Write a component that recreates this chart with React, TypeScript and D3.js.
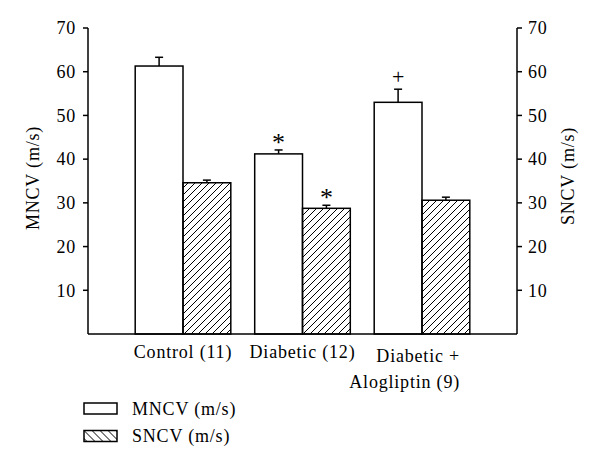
import React from "react";
import * as d3 from "d3";

const categories = ["Control (11)", "Diabetic (12)", "Diabetic +\nAlogliptin (9)"];
const mncv = [61.3, 41.2, 53.0];
const mncvErr = [2.0, 0.9, 3.0];
const sncv = [34.6, 28.75, 30.6];
const sncvErr = [0.6, 0.7, 0.7];
const mncvMarks = ["", "*", "+"];
const sncvMarks = ["", "*", ""];
const tickValues = [10, 20, 30, 40, 50, 60, 70];
const leftTitle = "MNCV (m/s)";
const rightTitle = "SNCV (m/s)";
const legendLabels = ["MNCV (m/s)", "SNCV (m/s)"];

const W = 600;
const H = 467;
const FONT = "'Liberation Serif', 'Times New Roman', serif";

export default function App() {
  const left = 88;
  const right = 517;
  const top = 28;
  const bottom = 334;
  const y = d3.scaleLinear().domain([0, 70]).range([bottom, top]);
  const x = d3.scalePoint<string>().domain(categories).range([left, right]).padding(0.795);
  const bw = x.step() * 0.4;
  const textStyle: React.CSSProperties = { fontFamily: FONT, fontSize: 18, letterSpacing: 0.8 };

  const markY = (v: number, e: number) => y(v + e);

  return (
    <svg
      width={W}
      height={H}
      viewBox={`0 0 ${W} ${H}`}
      style={{ position: "absolute", left: 0, top: 0, background: "#fff" }}
    >
      <defs>
        <pattern id="hatch" patternUnits="userSpaceOnUse" width={7} height={7}>
          <path d="M0,7 L7,0 M-2,2 L2,-2 M5,9 L9,5" stroke="#000" strokeWidth={1} />
        </pattern>
        <pattern id="hatchLegend" patternUnits="userSpaceOnUse" width={8} height={8}>
          <path d="M0,0 L8,8 M-2,6 L2,10 M6,-2 L10,2" stroke="#000" strokeWidth={1} />
        </pattern>
      </defs>
      <rect width={W} height={H} fill="#fff" />

      {/* bars */}
      {categories.map((c, i) => {
        const cx = x(c)!;
        return (
          <g key={c}>
            {/* MNCV error */}
            <line x1={cx - bw / 2} x2={cx - bw / 2} y1={y(mncv[i])} y2={y(mncv[i] + mncvErr[i])} stroke="#000" strokeWidth={1.5} />
            <line x1={cx - bw / 2 - 4} x2={cx - bw / 2 + 4} y1={y(mncv[i] + mncvErr[i])} y2={y(mncv[i] + mncvErr[i])} stroke="#000" strokeWidth={1.5} />
            {/* SNCV error */}
            <line x1={cx + bw / 2} x2={cx + bw / 2} y1={y(sncv[i])} y2={y(sncv[i] + sncvErr[i])} stroke="#000" strokeWidth={1.5} />
            <line x1={cx + bw / 2 - 4} x2={cx + bw / 2 + 4} y1={y(sncv[i] + sncvErr[i])} y2={y(sncv[i] + sncvErr[i])} stroke="#000" strokeWidth={1.5} />
            <rect x={cx - bw} y={y(mncv[i])} width={bw} height={bottom - y(mncv[i])} fill="#fff" stroke="#000" strokeWidth={1.5} />
            <rect x={cx} y={y(sncv[i])} width={bw} height={bottom - y(sncv[i])} fill="url(#hatch)" stroke="#000" strokeWidth={1.5} />
            {mncvMarks[i] && (
              <text
                x={cx - bw / 2}
                y={markY(mncv[i], mncvErr[i]) - (mncvMarks[i] === "*" ? -1 : 5)}
                textAnchor="middle"
                style={{ fontFamily: FONT, fontSize: mncvMarks[i] === "*" ? 26 : 22 }}
              >
                {mncvMarks[i]}
              </text>
            )}
            {sncvMarks[i] && (
              <text
                x={cx + bw / 2}
                y={markY(sncv[i], sncvErr[i]) + 1}
                textAnchor="middle"
                style={{ fontFamily: FONT, fontSize: 26 }}
              >
                {sncvMarks[i]}
              </text>
            )}
          </g>
        );
      })}

      {/* axes */}
      <line x1={left} x2={left} y1={top} y2={bottom} stroke="#000" strokeWidth={1.5} />
      <line x1={right} x2={right} y1={top} y2={bottom} stroke="#000" strokeWidth={1.5} />
      <line x1={left} x2={right} y1={bottom} y2={bottom} stroke="#000" strokeWidth={1.5} />
      {tickValues.map((t) => (
        <g key={t}>
          <line x1={left - 5} x2={left} y1={y(t)} y2={y(t)} stroke="#000" strokeWidth={1.5} />
          <line x1={right} x2={right + 5} y1={y(t)} y2={y(t)} stroke="#000" strokeWidth={1.5} />
          <text x={left - 12} y={y(t)} dy="0.35em" textAnchor="end" style={textStyle}>
            {t}
          </text>
          <text x={right + 11} y={y(t)} dy="0.35em" textAnchor="start" style={textStyle}>
            {t}
          </text>
        </g>
      ))}
      <text
        transform={`translate(33,178) rotate(-90)`}
        textAnchor="middle"
        dy="0.35em"
        style={textStyle}
      >
        {leftTitle}
      </text>
      <text
        transform={`translate(568,176) rotate(-90)`}
        textAnchor="middle"
        dy="0.35em"
        style={textStyle}
      >
        {rightTitle}
      </text>

      {/* category labels */}
      {categories.map((c) => {
        const lines = c.split("\n");
        const cx = x(c)!;
        if (lines.length === 1) {
          return (
            <text key={c} x={cx} y={358} textAnchor="middle" style={textStyle}>
              {c}
            </text>
          );
        }
        return (
          <text key={c} textAnchor="end" style={textStyle}>
            {lines.map((l, j) => (
              <tspan key={j} x={cx + 38} y={362 + j * 26}>
                {l}
              </tspan>
            ))}
          </text>
        );
      })}

      {/* legend */}
      {legendLabels.map((l, i) => (
        <g key={l} transform={`translate(84, ${403 + i * 27.5})`}>
          <rect x={0} y={0} width={33} height={11} fill={i === 0 ? "#fff" : "url(#hatchLegend)"} stroke="#000" strokeWidth={1.5} />
          <text x={48} y={5.5} dy="0.35em" style={textStyle}>
            {l}
          </text>
        </g>
      ))}
    </svg>
  );
}
